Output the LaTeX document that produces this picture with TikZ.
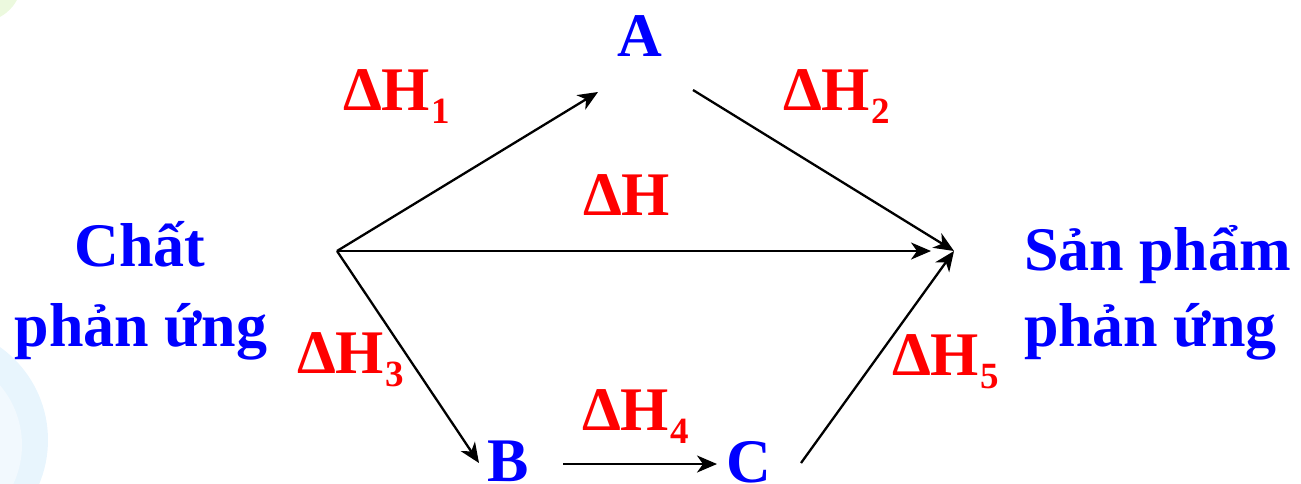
\documentclass[tikz,border=0pt]{standalone}
\usepackage{fontspec}
\setmainfont{Liberation Serif}
\usetikzlibrary{arrows.meta}
\definecolor{bl}{RGB}{0,0,255}
\definecolor{rd}{RGB}{255,0,0}
\definecolor{palegreen}{RGB}{236,249,222}
\definecolor{paleblue}{RGB}{232,245,253}
\definecolor{paleblue2}{RGB}{242,249,254}
\newcommand{\dH}[1]{ΔH\kern1pt\raisebox{-13pt}{\fontsize{37}{37}\selectfont #1}}
\begin{document}
\begin{tikzpicture}[x=1pt,y=-1pt,
  lbl/.style={inner sep=0pt,outer sep=0pt,text=bl,font=\fontsize{62}{72}\selectfont\bfseries},
  dlbl/.style={inner sep=0pt,outer sep=0pt,text=rd,font=\fontsize{62}{72}\selectfont\bfseries},
  arr/.style={line width=2.3pt,-{Stealth[length=20pt,width=17pt,inset=6pt]}}]
\useasboundingbox (0,0) rectangle (1301,483);
% background decoration
\fill[palegreen] (-20,-20) circle (42);
\fill[paleblue] (-66,440) circle (114);
\fill[paleblue2] (-70,445) circle (92);
% labels
\node[lbl,anchor=base] (chat1) at (140,266) {Chất};
\node[lbl,anchor=base] (chat2) at (141,346) {phản ứng};
\node[lbl,anchor=base west] (sp1) at (1024,270) {Sản phẩm};
\node[lbl,anchor=base west] (sp2) at (1024,346) {phản ứng};
\node[lbl,anchor=base west] (A) at (617,56) {A};
\node[lbl,anchor=base west] (B) at (487,481) {B};
\node[lbl,anchor=base west] (C) at (726,482) {C};
\node[dlbl,anchor=base west] (h1) at (343,110) {\dH{1}};
\node[dlbl,anchor=base west] (h2) at (783,110) {\dH{2}};
\node[dlbl,anchor=base west] (h) at (583,215) {ΔH};
\node[dlbl,anchor=base west] (h3) at (297,373) {\dH{3}};
\node[dlbl,anchor=base west] (h4) at (582,430) {\dH{4}};
\node[dlbl,anchor=base west] (h5) at (892,375) {\dH{5}};
% connector end points
\coordinate (src) at (337,251);
\coordinate (prod) at (954,251);
\coordinate (prodH) at (931,251);
\coordinate (toA) at (598,92);
\coordinate (fromA) at (693,90);
\coordinate (toB) at (479,463);
\coordinate (fromB) at (563,464);
\coordinate (toC) at (717,464);
\coordinate (fromC) at (801,463);
\draw[arr] (src) -- (toA);
\draw[arr] (fromA) -- (prod);
\draw[arr] (src) -- (prodH);
\draw[arr] (src) -- (toB);
\draw[arr] (fromB) -- (toC);
\draw[arr] (fromC) -- (prod);
\end{tikzpicture}
\end{document}
